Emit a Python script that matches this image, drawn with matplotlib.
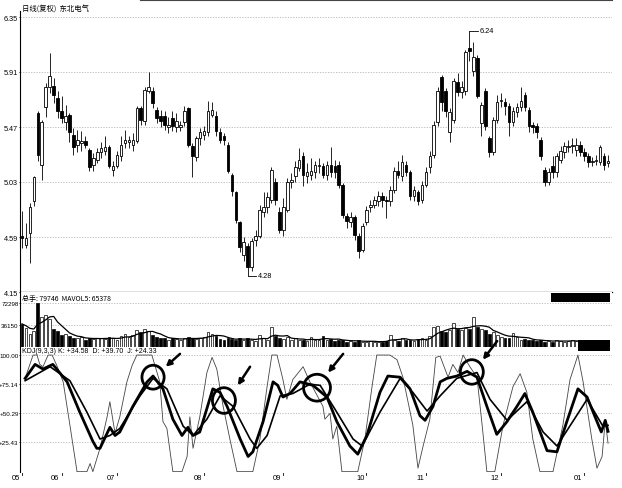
import matplotlib
matplotlib.use('Agg')
import matplotlib.pyplot as plt
import numpy as np
import pandas as pd
from matplotlib.patches import Rectangle, Ellipse
from matplotlib.lines import Line2D
import matplotlib.transforms as mtrans

plt.rcParams['font.family'] = ['Liberation Sans', 'Noto Sans CJK SC', 'DejaVu Sans']

# ---------------- data ----------------
opens = [4.60,4.53,4.62,4.88,5.58,5.17,5.63,5.79,5.80,5.70,
         5.60,5.51,5.57,5.41,5.33,5.34,5.36,5.29,5.17,5.21,
         5.27,5.28,5.31,5.13,5.16,5.24,5.34,5.35,5.33,5.36,
         5.62,5.52,5.76,5.76,5.61,5.56,5.56,5.47,5.54,5.47,
         5.47,5.51,5.62,5.32,5.23,5.38,5.41,5.43,5.57,5.56,
         5.43,5.40,5.33,5.09,4.95,4.71,4.45,4.52,4.35,4.57,
         4.60,4.79,4.83,4.89,5.03,4.79,4.65,4.81,5.03,5.08,
         5.14,5.24,5.08,5.09,5.11,5.16,5.16,5.09,5.17,5.16,
         5.17,5.01,4.76,4.71,4.75,4.60,4.49,4.71,4.83,4.85,
         4.88,4.92,4.89,4.88,4.97,5.12,5.08,5.17,5.11,4.92,
         4.95,4.89,5.01,5.15,5.25,5.51,5.87,5.76,5.43,5.53,
         5.83,5.75,5.76,6.10,5.92,6.02,5.50,5.76,5.38,5.27,
         5.53,5.68,5.67,5.64,5.51,5.59,5.63,5.73,5.61,5.49,
         5.48,5.37,5.13,5.03,5.16,5.11,5.21,5.27,5.31,5.32,
         5.29,5.33,5.27,5.24,5.19,5.20,5.19,5.24,5.18]
closes = [4.58,4.58,4.83,5.07,5.25,5.51,5.79,5.88,5.73,5.60,
          5.54,5.56,5.43,5.31,5.37,5.36,5.33,5.15,5.22,5.27,
          5.30,5.31,5.16,5.16,5.25,5.33,5.37,5.37,5.37,5.62,
          5.53,5.77,5.79,5.66,5.54,5.52,5.49,5.49,5.48,5.52,
          5.49,5.60,5.33,5.24,5.38,5.43,5.44,5.60,5.61,5.44,
          5.37,5.37,5.12,4.96,4.73,4.51,4.55,4.35,4.56,4.60,
          4.81,4.83,4.91,5.13,4.89,4.65,4.83,5.03,5.05,5.15,
          5.21,5.09,5.11,5.12,5.17,5.16,5.09,5.17,5.11,5.11,
          5.01,4.77,4.72,4.75,4.61,4.48,4.68,4.81,4.85,4.89,
          4.92,4.89,4.88,4.97,5.12,5.09,5.19,5.11,4.92,4.97,
          4.88,5.01,5.11,5.24,5.49,5.76,5.67,5.60,5.59,5.84,
          5.75,5.79,6.07,6.08,6.03,5.72,5.65,5.48,5.27,5.53,
          5.67,5.69,5.64,5.51,5.60,5.63,5.68,5.63,5.48,5.47,
          5.43,5.24,5.03,5.11,5.11,5.24,5.28,5.32,5.32,5.32,
          5.33,5.27,5.24,5.19,5.20,5.21,5.31,5.17,5.20]
highs = [4.80,4.70,4.86,5.08,5.60,5.53,5.82,6.06,5.86,5.76,
         5.72,5.65,5.58,5.46,5.45,5.44,5.40,5.30,5.26,5.30,
         5.35,5.40,5.33,5.20,5.28,5.40,5.45,5.40,5.42,5.64,
         5.64,5.79,5.91,5.79,5.63,5.61,5.60,5.55,5.60,5.58,
         5.52,5.64,5.63,5.34,5.40,5.46,5.48,5.68,5.67,5.60,
         5.46,5.42,5.35,5.10,4.96,4.72,4.59,4.54,4.58,4.65,
         4.85,4.95,4.95,5.15,5.06,4.83,4.90,5.06,5.10,5.20,
         5.30,5.27,5.18,5.22,5.20,5.22,5.18,5.20,5.31,5.21,
         5.20,5.02,4.78,4.79,4.77,4.62,4.70,4.84,4.89,4.92,
         4.96,4.95,4.92,5.00,5.15,5.20,5.25,5.20,5.13,5.00,
         4.97,5.04,5.15,5.28,5.52,5.79,5.89,5.78,5.62,5.86,
         5.90,5.84,6.09,6.24,6.15,6.05,5.67,5.78,5.40,5.55,
         5.73,5.74,5.70,5.66,5.63,5.66,5.79,5.75,5.63,5.51,
         5.50,5.39,5.15,5.14,5.24,5.26,5.32,5.35,5.37,5.38,
         5.38,5.36,5.30,5.26,5.23,5.25,5.33,5.26,5.25]
lows = [4.50,4.50,4.38,4.84,5.20,5.05,5.55,5.74,5.66,5.54,
        5.50,5.45,5.35,5.25,5.27,5.28,5.30,5.12,5.12,5.18,
        5.22,5.25,5.14,5.08,5.14,5.20,5.30,5.30,5.28,5.34,
        5.49,5.49,5.74,5.62,5.50,5.47,5.45,5.42,5.44,5.43,
        5.44,5.48,5.31,5.07,5.20,5.33,5.37,5.40,5.55,5.40,
        5.34,5.33,5.10,4.92,4.70,4.47,4.40,4.28,4.32,4.52,
        4.58,4.75,4.78,4.86,4.85,4.62,4.60,4.79,4.98,5.03,
        5.12,5.00,5.02,5.05,5.06,5.10,5.06,5.05,5.07,5.06,
        4.98,4.74,4.66,4.67,4.57,4.42,4.47,4.69,4.79,4.82,
        4.84,4.83,4.74,4.84,4.94,5.06,5.04,5.08,4.89,4.88,
        4.85,4.86,4.99,5.10,5.22,5.48,5.60,5.55,5.35,5.50,
        5.72,5.70,5.73,6.00,5.88,5.70,5.40,5.45,5.23,5.25,
        5.50,5.63,5.57,5.40,5.48,5.55,5.60,5.60,5.43,5.42,
        5.38,5.21,5.00,5.01,5.06,5.07,5.18,5.22,5.27,5.26,
        5.24,5.24,5.20,5.15,5.16,5.17,5.17,5.13,5.15]
volumes = [38000,32000,22000,26000,
           72298,
           50000,53000,46000,
           30000,26000,20000,22000,
           18000,15000,14000,16000,12000,15000,13000,14000,
           15000,13000,16000,14000,12000,18000,22000,17000,
           19000,28000,24000,30000,26000,20000,16000,15000,
           14000,12000,15000,13000,12000,14000,16000,15000,13000,
           14000,16000,25000,22000,18000,13000,12000,
           14000,13000,12000,15000,11000,14000,12000,10000,
           20000,14000,12000,33000,18000,14000,
           13000,16000,12000,14000,11000,12000,10000,16000,12000,
           11000,18000,12000,13000,10000,12000,11000,9000,10000,9000,
           11000,9000,8000,10000,9000,8000,9000,10000,20000,12000,
           10000,14000,11000,12000,10000,13000,15000,12000,
           18000,33000,35000,27000,25000,28000,40000,
           30000,28000,32000,30000,50000,33000,30000,28000,22000,24000,
           20000,16000,15000,14000,23000,16000,12000,13000,11000,12000,
           10000,11000,9000,10000,9000,11000,10000,9000,10000,11000,
           10000,9000,12000,10000,9000,11000,10000,9000,12000]

# KDJ lines (x in candle-index units)
k_x = [0.8,3.3,5.3,7.8,11.4,14.6,17.9,18.9,19.7,22.2,23.5,24.7,28.0,31.6,33.1,
       35.6,38.1,40.4,41.9,43.2,44.9,48.2,50.0,51.8,55.1,57.1,58.3,60.9,63.4,64.6,
       65.9,67.7,70.2,73.5,77.0,79.5,82.8,84.8,87.1,90.4,92.4,95.5,98.0,100.5,101.8,
       103.8,105.6,107.3,109.8,112.4,114.9,117.4,119.9,122.5,125.0,127.0,129.0,132.6,
       135.1,137.6,140.4,142.7,145.2,146.3,147.3,148.0]
k_v = [80,92,88,92,77,51,26,20,20,38,31,34,56,77,82,
       71,45,31,38,31,34,71,68,56,28,13,17,43,77,74,
       64,67,77,74,64,43,22,15,31,68,82,81,71,48,44,
       56,77,80,82,86,81,56,32,43,56,67,51,18,
       17,43,71,64,43,34,44,34.58]
d_x = [0.8,7.1,12.1,16.4,19.7,22.2,24.7,29.8,33.1,36.6,40.7,43.2,46.7,50.0,53.3,
       57.6,59.3,61.9,65.2,68.4,72.7,75.3,79.5,83.6,85.9,90.4,95.5,98.7,102.3,105.6,
       109.8,114.9,118.2,122.5,127.5,131.6,135.1,139.1,142.7,146.7,148.0]
d_v = [78,90,78,51,28,31,37,65,80,71,39,31,45,65,56,
       28,20,31,65,67,75,74,51,28,22,51,80,68,52,65,
       80,85,62,44,60,34,22,43,62,39,39.70]
j_x = [0.8,2.8,3.8,4.5,5.3,6.6,7.6,8.8,10.4,12.1,13.9,16.4,17.2,17.9,19.7,
       21.5,22.2,23.5,24.7,26.5,27.8,29.0,32.8,34.8,35.6,36.6,38.1,40.4,41.7,42.4,
       43.2,44.9,46.7,48.0,49.2,50.8,52.5,54.3,58.3,60.1,61.9,63.1,64.4,65.9,66.9,
       68.4,71.0,72.7,76.0,76.5,77.8,78.5,79.5,80.8,84.8,86.6,88.4,89.6,92.9,94.7,
       96.2,98.7,100.0,101.3,103.0,104.5,105.6,107.6,108.8,110.1,111.4,113.1,114.9,
       116.2,117.4,119.4,121.5,124.0,125.8,127.5,129.0,130.8,134.1,136.6,138.4,140.4,
       141.7,143.9,145.2,146.5,147.3,148.0]
j_v = [80,100,100,92,90,100,100,91,77,40,0,0,7,0,20,
       47,60,33,47,77,91,100,100,77,43,37,0,0,13,47,
       20,47,85,98,88,56,28,0,0,28,73,100,100,79,62,
       79,90,77,56,45,50,28,39,0,0,28,73,100,100,96,
       81,40,3,22,45,98,99,81,92,85,100,90,81,
       40,0,0,40,73,84,68,28,0,0,40,79,100,
       77,28,3,13,44,24.33]

# markers on the KDJ panel: circles (centre idx, value) and arrows
circle_x = [33.1, 51.0, 74.5, 113.6]
circle_v = [81, 61, 72, 85.5]
circle_w = [5.6, 5.8, 6.8, 5.8]
circle_h = [20.5, 22.0, 23.0, 21.0]
arrow_tail = [(39.9, 101), (57.6, 90), (81.1, 101), (120.0, 112)]
arrow_head = [(36.3, 90), (54.5, 74), (77.3, 85), (116.4, 96)]

month_labels = ['05', '06', '07', '08', '09', '10', '11', '12', '01']
month_idx = [0, 10, 24, 46, 66, 87, 102, 121, 142]

price_ticks = [4.15, 4.59, 5.03, 5.47, 5.91, 6.35]
vol_ticks = [36150, 72298]
kdj_ticks = [25.43, 50.29, 75.14, 100.00]
kdj_tick_labels = ['+25.43', '+50.29', '+75.14', '100.00']

# ---------------- figure ----------------
W, H = 622, 489
fig = plt.figure(figsize=(W / 100, H / 100), dpi=100)
fig.patch.set_facecolor('white')

def rect(l, t, r, b):
    return [l / W, 1 - b / H, (r - l) / W, (b - t) / H]

ax1 = fig.add_axes(rect(20, 12, 612, 293))
ax2 = fig.add_axes(rect(20, 293, 612, 348))
ax3 = fig.add_axes(rect(20, 348, 612, 473))

n = len(closes)
x = np.arange(n)
o = np.array(opens); c = np.array(closes); h = np.array(highs); l = np.array(lows)
up = c >= o
XL = (-0.5, 149.0)

grid_kw = dict(color='#a8a8a8', lw=0.55, ls=(0, (1.5, 2)), zorder=0)

for ax in (ax1, ax2, ax3):
    ax.set_xlim(*XL)
    ax.set_facecolor('white')
    for s in ('top', 'right', 'bottom'):
        ax.spines[s].set_visible(False)
    ax.spines['left'].set_linewidth(0.8)
    ax.tick_params(axis='y', length=1.0, width=0.6, pad=0.3, labelsize=5.2)
    ax.tick_params(axis='x', bottom=False, labelbottom=False)
for ax in (ax2, ax3):
    ax.tick_params(axis='y', labelsize=4.5, pad=0.2, length=0.8)

# ---- price panel ----
ax1.set_ylim(4.15, 6.398)
ax1.spines['bottom'].set_visible(True)
ax1.spines['bottom'].set_linewidth(0.9)
for p in price_ticks[1:]:
    ax1.axhline(p, **grid_kw)
ax1.vlines(x, l, h, color='black', lw=0.6, zorder=2)
body_bottom = np.minimum(o, c)
body_h = np.maximum(np.abs(c - o), 0.008)
ax1.bar(x[up], body_h[up], bottom=body_bottom[up], width=0.66,
        facecolor='white', edgecolor='black', linewidth=0.6, zorder=3)
ax1.bar(x[~up], body_h[~up], bottom=body_bottom[~up], width=0.66,
        facecolor='black', edgecolor='black', linewidth=0.6, zorder=3)
ax1.set_yticks(price_ticks)
ax1.set_yticklabels(['%.2f' % p for p in price_ticks])

imin = int(np.argmin(l)); imax = int(np.argmax(h))
ax1.plot([imin, imin + 2.2], [l[imin], l[imin]], color='black', lw=0.6)
ax1.text(imin + 2.5, l[imin], '%.2f' % l[imin], fontsize=5.3, va='center', ha='left')
ax1.plot([imax, imax + 2.2], [h[imax], h[imax]], color='black', lw=0.6)
ax1.text(imax + 2.5, h[imax], '%.2f' % h[imax], fontsize=5.3, va='center', ha='left')

# ---- volume panel ----
ax2.set_ylim(0, 90370)
for v in vol_ticks:
    ax2.axhline(v, **grid_kw)
vol = np.array(volumes)
ax2.bar(x[up], vol[up], width=0.7, facecolor='white', edgecolor='black', linewidth=0.5, zorder=2)
ax2.bar(x[~up], vol[~up], width=0.7, facecolor='black', edgecolor='black', linewidth=0.5, zorder=2)
mavol = pd.Series(vol).rolling(5, min_periods=1).mean()
ax2.plot(x, mavol, color='black', lw=0.9, zorder=3)
ax2.set_yticks(vol_ticks)
ax2.set_yticklabels([str(v) for v in vol_ticks])

# ---- KDJ panel ----
ax3.set_ylim(-0.3, 106.9)
for v in kdj_ticks:
    ax3.axhline(v, **grid_kw)
ax3.plot(j_x, j_v, color='#444444', lw=0.6, zorder=2)
ax3.plot(d_x, d_v, color='black', lw=1.2, zorder=3)
ax3.plot(k_x, k_v, color='black', lw=2.0, zorder=4)
ax3.set_yticks(kdj_ticks)
ax3.set_yticklabels(kdj_tick_labels)
for cx, cv, cw, ch in zip(circle_x, circle_v, circle_w, circle_h):
    ax3.add_patch(Ellipse((cx, cv), cw, ch, fill=False, edgecolor='black', lw=2.0, zorder=5))
for (tx, tv), (hx, hv) in zip(arrow_tail, arrow_head):
    ax3.annotate('', xy=(hx, hv), xytext=(tx, tv), annotation_clip=False,
                 arrowprops=dict(arrowstyle='-|>', lw=1.8, color='black',
                                 mutation_scale=8, shrinkA=0, shrinkB=0), zorder=6)

# month labels and small ticks
trans = mtrans.blended_transform_factory(ax3.transData, ax3.transAxes)
for lab, mi in zip(month_labels, month_idx):
    ax3.text(mi - 0.5, -0.045, lab, transform=trans, ha='right', va='center',
             fontsize=5.5, clip_on=False)
    ax3.plot([mi, mi], [-0.005, -0.025], transform=trans, color='black', lw=0.6, clip_on=False)

# headers
fig.text(22 / W, 1 - 10 / H, '日线(复权)  东北电气', fontsize=5.3,
         family=['Noto Sans CJK SC', 'DejaVu Sans'], va='center', ha='left')
fig.text(22 / W, 1 - 299 / H, '总手: 79746  MAVOL5: 65378', fontsize=5.0,
         family=['Noto Sans CJK SC', 'DejaVu Sans'], va='center', ha='left')
fig.text(22 / W, 1 - 351.5 / H, 'KDJ(9,3,3) K: +34.58  D: +39.70  J: +24.33', fontsize=5.0,
         va='center', ha='left')

# decorative frame pieces
fig.add_artist(Line2D([140 / W, 612 / W], [1 - 1 / H, 1 - 1 / H], color='#444444', lw=0.8))
fig.add_artist(Rectangle((551 / W, 1 - 303 / H), 59 / W, 9 / H, transform=fig.transFigure,
                         facecolor='black', edgecolor='none'))
fig.add_artist(Rectangle((578 / W, 1 - 352 / H), 32 / W, 11 / H, transform=fig.transFigure,
                         facecolor='black', edgecolor='none', zorder=10))

fig.savefig('out.png', dpi=100, facecolor='white')
